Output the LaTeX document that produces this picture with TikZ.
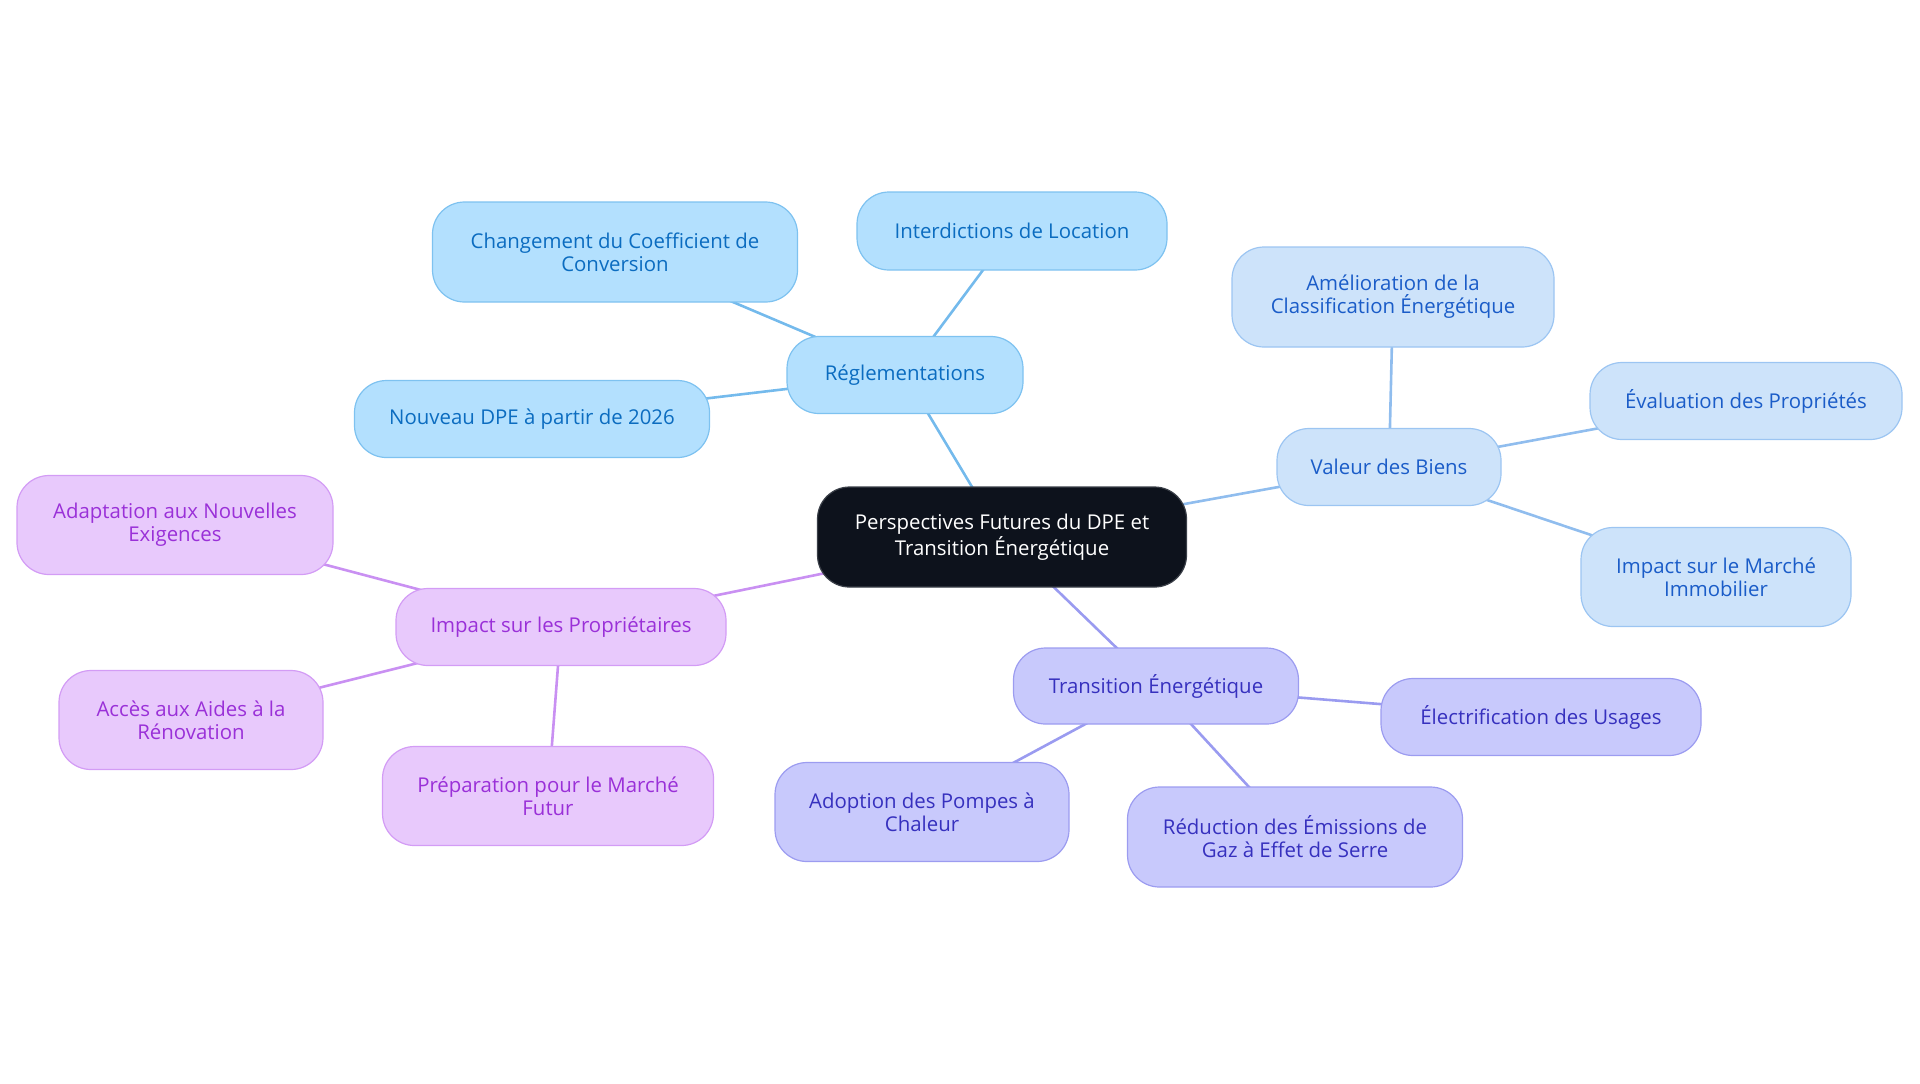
\documentclass[tikz,border=0pt]{standalone}
\usepackage{fontspec}
\setmainfont{Open Sans}
\usetikzlibrary{backgrounds}
\definecolor{rootfill}{HTML}{0D121C}
\definecolor{rootdraw}{HTML}{3A3F48}
\definecolor{afill}{HTML}{B3E0FE}
\definecolor{adraw}{HTML}{7EC2F0}
\definecolor{atext}{HTML}{0B6CC0}
\definecolor{aline}{HTML}{74BAEC}
\definecolor{bfill}{HTML}{CDE3FA}
\definecolor{bdraw}{HTML}{9CC5F2}
\definecolor{btext}{HTML}{1A5CC8}
\definecolor{bline}{HTML}{90BDEE}
\definecolor{cfill}{HTML}{C8C9FC}
\definecolor{cdraw}{HTML}{9C9CF0}
\definecolor{ctext}{HTML}{3630BE}
\definecolor{cline}{HTML}{9A9BF0}
\definecolor{dfill}{HTML}{E8C9FC}
\definecolor{ddraw}{HTML}{D39CF5}
\definecolor{dtext}{HTML}{9A30D8}
\definecolor{dline}{HTML}{C990F2}
\begin{document}
\begin{tikzpicture}[x=0.5pt,y=-0.5pt,
  box/.style={rounded corners=16pt, line width=0.6pt, align=center, inner sep=0pt,
    font=\fontsize{10.2}{11.5}\selectfont},
  rootbox/.style={box, fill=rootfill, draw=rootdraw, text=white},
  abox/.style={box, fill=afill, draw=adraw, text=atext},
  bbox/.style={box, fill=bfill, draw=bdraw, text=btext},
  cbox/.style={box, fill=cfill, draw=cdraw, text=ctext},
  dbox/.style={box, fill=dfill, draw=ddraw, text=dtext},
  link/.style={line width=1.3pt}
]
\useasboundingbox (0,0) rectangle (1920,1083);
\node[rootbox, minimum width=184.5pt, minimum height=50pt] (root) at (1002,537) {Perspectives Futures du DPE et\\Transition Énergétique};
% branch A
\node[abox, minimum width=118pt, minimum height=38.5pt] (regl) at (905,375) {Réglementations};
\node[abox, minimum width=155pt, minimum height=39pt] (interd) at (1012,231) {Interdictions de Location};
\node[abox, minimum width=182.5pt, minimum height=50pt] (coef) at (615,252) {Changement du Coefficient de\\Conversion};
\node[abox, minimum width=177.5pt, minimum height=38.5pt] (nouv) at (532,419) {Nouveau DPE à partir de 2026};
% branch B
\node[bbox, minimum width=112pt, minimum height=38.5pt] (val) at (1389,467) {Valeur des Biens};
\node[bbox, minimum width=161pt, minimum height=50pt] (amel) at (1393,297) {Amélioration de la\\Classification Énergétique};
\node[bbox, minimum width=156pt, minimum height=38.5pt] (eval) at (1746,401) {Évaluation des Propriétés};
\node[bbox, minimum width=135pt, minimum height=49.5pt] (marche) at (1716,577) {Impact sur le Marché\\Immobilier};
% branch C
\node[cbox, minimum width=142.5pt, minimum height=38pt] (trans) at (1156,686) {Transition Énergétique};
\node[cbox, minimum width=160pt, minimum height=38.5pt] (elec) at (1541,717) {Électrification des Usages};
\node[cbox, minimum width=147pt, minimum height=49.5pt] (pompe) at (922,812) {Adoption des Pompes à\\Chaleur};
\node[cbox, minimum width=167.5pt, minimum height=50pt] (reduc) at (1295,837) {Réduction des Émissions de\\Gaz à Effet de Serre};
% branch D
\node[dbox, minimum width=165pt, minimum height=38.5pt] (prop) at (561,627) {Impact sur les Propriétaires};
\node[dbox, minimum width=158pt, minimum height=49.5pt] (adapt) at (175,525) {Adaptation aux Nouvelles\\Exigences};
\node[dbox, minimum width=132pt, minimum height=49.5pt] (acces) at (191,720) {Accès aux Aides à la\\Rénovation};
\node[dbox, minimum width=165.5pt, minimum height=49.5pt] (prep) at (548,796) {Préparation pour le Marché\\Futur};
\begin{scope}[on background layer]
\draw[link, aline] (root.center) -- (regl.center);
\draw[link, aline] (regl.center) -- (interd.center);
\draw[link, aline] (regl.center) -- (coef.center);
\draw[link, aline] (regl.center) -- (nouv.center);
\draw[link, bline] (root.center) -- (val.center);
\draw[link, bline] (val.center) -- (amel.center);
\draw[link, bline] (val.center) -- (eval.center);
\draw[link, bline] (val.center) -- (marche.center);
\draw[link, cline] (root.center) -- (trans.center);
\draw[link, cline] (trans.center) -- (elec.center);
\draw[link, cline] (trans.center) -- (pompe.center);
\draw[link, cline] (trans.center) -- (reduc.center);
\draw[link, dline] (root.center) -- (prop.center);
\draw[link, dline] (prop.center) -- (adapt.center);
\draw[link, dline] (prop.center) -- (acces.center);
\draw[link, dline] (prop.center) -- (prep.center);
\end{scope}
\end{tikzpicture}
\end{document}
